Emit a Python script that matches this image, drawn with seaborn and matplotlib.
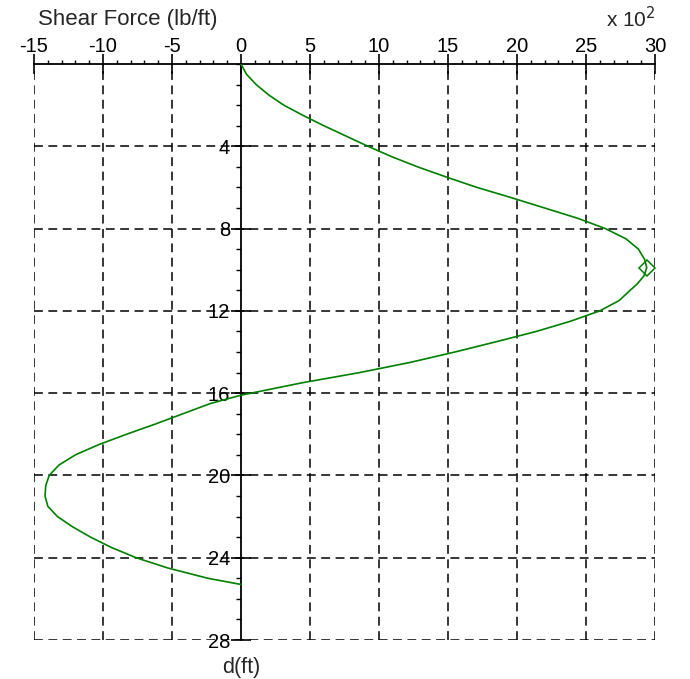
import matplotlib
matplotlib.use("Agg")
import matplotlib.pyplot as plt
from matplotlib.ticker import MultipleLocator, FixedLocator
import pandas as pd
import seaborn as sns

# Shear force along the depth (x 10^2 lb/ft)
depth_ft = [0.0, 0.5, 1.0, 1.5, 2.0, 2.5, 3.0, 3.5, 4.0, 4.5, 5.0, 5.5,
            6.0, 6.5, 7.0, 7.5, 8.0, 8.5, 9.0, 9.5, 9.9, 10.3, 10.7, 11.0,
            11.5, 12.0, 12.5, 13.0, 13.5, 14.0, 14.5, 15.0, 15.5, 16.1,
            16.5, 17.0, 17.5, 18.0, 18.5, 19.0, 19.5, 20.0, 20.5, 21.0,
            21.5, 22.0, 22.5, 23.0, 23.5, 24.0, 24.5, 25.0, 25.3]
shear = [0.0, 0.4, 1.1, 2.0, 3.1, 4.5, 6.0, 7.6, 9.2, 10.9, 12.8, 14.9,
         17.1, 19.6, 22.0, 24.4, 26.4, 27.9, 28.8, 29.25, 29.4, 29.2, 28.7,
         28.2, 27.4, 26.0, 23.9, 21.4, 18.5, 15.5, 12.3, 8.6, 4.4, 0.0,
         -2.2, -4.2, -6.2, -8.3, -10.3, -12.0, -13.2, -13.9, -14.15, -14.2,
         -14.0, -13.3, -12.2, -10.9, -9.4, -7.6, -5.3, -2.4, 0.0]

max_depth = 9.9
max_shear = 29.4

x_ticks = [-15, -10, -5, 0, 5, 10, 15, 20, 25, 30]
y_ticks = [4, 8, 12, 16, 20, 24, 28]
y_tick_labels = ["4", "8", "12", "16", "20", "24", "28"]

df = pd.DataFrame({"d": depth_ft, "V": shear})

sns.set_style("white")
plt.rcParams["font.family"] = ["Liberation Sans", "DejaVu Sans"]

W, H = 690, 679
fig = plt.figure(figsize=(W / 100, H / 100), dpi=100)
ax = fig.add_axes([34 / W, 1 - 640 / H, (655 - 34) / W, (640 - 64) / H])

green = "#008000"
sns.lineplot(data=df, x="V", y="d", sort=False, estimator=None,
             color=green, linewidth=1.2, ax=ax, zorder=3)
ax.plot([max_shear], [max_depth], marker="D", markersize=8,
        markerfacecolor="none", markeredgecolor=green, markeredgewidth=1.1,
        linestyle="none", zorder=4)

ax.set_xlim(-15, 30)
ax.set_ylim(28, 0)

# dashed grid
dash = (0, (5.8, 3.6))
for xv in x_ticks:
    if xv != 0:
        ax.axvline(xv, color="black", linewidth=1.1, linestyle=dash, zorder=1)
for yv in y_ticks:
    ax.axhline(yv, color="black", linewidth=1.1, linestyle=dash, zorder=1)

# spines: top axis line at d = 0, vertical axis at V = 0
for s in ["right", "bottom"]:
    ax.spines[s].set_visible(False)
ax.spines["top"].set_visible(True)
ax.spines["top"].set_linewidth(1.3)
ax.spines["top"].set_color("black")
ax.spines["left"].set_position(("data", 0))
ax.spines["left"].set_linewidth(1.3)
ax.spines["left"].set_color("black")
ax.spines["left"].set_zorder(2)

ax.xaxis.set_ticks_position("top")
ax.xaxis.set_label_position("top")
ax.xaxis.set_major_locator(FixedLocator(x_ticks))
ax.xaxis.set_minor_locator(MultipleLocator(1))
ax.set_xticklabels([str(v) for v in x_ticks])
ax.tick_params(axis="x", which="major", direction="inout", length=14.5,
               width=1.2, labelsize=14.5, pad=-1.5, colors="black", top=True,
               bottom=False, labeltop=True, labelbottom=False)
ax.tick_params(axis="x", which="minor", direction="out", length=3,
               width=1.0, top=True, bottom=False, colors="black")

ax.yaxis.set_major_locator(FixedLocator(y_ticks))
ax.yaxis.set_minor_locator(MultipleLocator(1))
ax.set_yticklabels(y_tick_labels)
ax.tick_params(axis="y", which="major", direction="inout", length=14.5,
               width=1.2, labelsize=14.5, pad=0.5, colors="black", left=True,
               right=False)
ax.tick_params(axis="y", which="minor", direction="out", length=3.5,
               width=1.0, left=True, right=False, colors="black")

ax.set_xlabel("")
ax.set_ylabel("")
ax.set_facecolor("white")

fig.text(38 / W, 1 - 25 / H, "Shear Force (lb/ft)", fontsize=16,
         ha="left", va="baseline")
fig.text(656 / W, 1 - 27 / H, r"x 10$^{2}$", fontsize=15,
         ha="right", va="baseline")
fig.text(241 / W, 1 - 673 / H, "d(ft)", fontsize=15.5,
         ha="center", va="baseline")

fig.savefig("out.png", dpi=100, facecolor="white")
